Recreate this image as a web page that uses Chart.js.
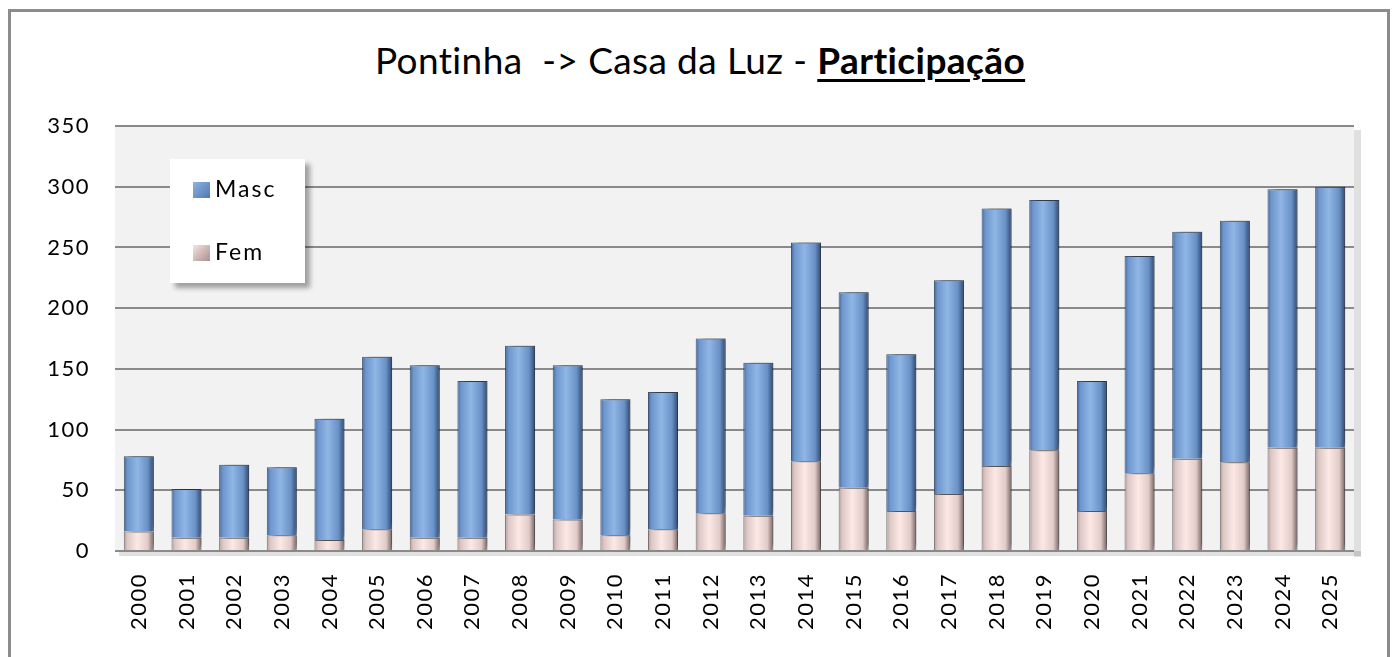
<!DOCTYPE html>
<html>
<head>
<meta charset="utf-8">
<script src="https://cdn.jsdelivr.net/npm/chart.js@4/dist/chart.umd.min.js"></script>
<style>
  html, body { margin: 0; padding: 0; background: #fff; }
  body { width: 1397px; height: 657px; position: relative; overflow: hidden; font-family: Lato, "Open Sans", sans-serif; }
  #frame { position: absolute; left: 8px; top: 9px; width: 1382px; height: 700px; border: 3px solid #8c8c8c; box-sizing: border-box; }
  #title { position: absolute; left: 0; width: 1400px; top: 38px; text-align: center; font-size: 37px; letter-spacing: 0.4px; line-height: 44px; color: #000; white-space: pre; }
  #title b { text-decoration: underline; text-decoration-thickness: 3px; text-underline-offset: 5px; }
  #legend { position: absolute; left: 170px; top: 159px; width: 135px; height: 124px; background: #fff; box-shadow: 5px 5px 5px rgba(0,0,0,0.35); font-size: 23px; letter-spacing: 2px; }
  .item { position: absolute; left: 23px; height: 26px; line-height: 26px; white-space: nowrap; }
  .sw { display: inline-block; width: 17px; height: 16px; vertical-align: -1px; margin-right: 5px; }
  canvas { position: absolute; left: 0; top: 0; }
</style>
</head>
<body>
<div id="frame"></div>
<div id="title">Pontinha  -&gt; Casa da Luz - <b>Participação</b></div>
<canvas id="chart" width="1397" height="657"></canvas>
<div id="legend">
  <div class="item" style="top:16px"><span class="sw" style="background:linear-gradient(135deg,#8db3e2,#4f79b0)"></span>Masc</div>
  <div class="item" style="top:79px"><span class="sw" style="background:linear-gradient(135deg,#f6e4e2,#a89090)"></span>Fem</div>
</div>
<script>
const years = ["2000","2001","2002","2003","2004","2005","2006","2007","2008","2009","2010","2011","2012",
  "2013","2014","2015","2016","2017","2018","2019","2020","2021","2022","2023","2024","2025"];
const fem  = [16, 11, 11, 13, 9, 18, 11, 11, 30, 26, 13, 18, 31, 29, 74, 52, 33, 47, 70, 83, 33, 64, 76, 73, 85, 85];
const masc = [62, 40, 60, 56, 100, 142, 142, 129, 139, 127, 112, 113, 144, 126, 180, 161, 129, 176, 212, 206, 107, 179, 187, 199, 213, 215];
const yTicks = [0, 50, 100, 150, 200, 250, 300, 350];

const BAR_PCT = 0.63;

// horizontal shaded fill per bar, built from the x scale
function barFill(stops, flat) {
  return function(c) {
    const xs = c.chart.scales.x;
    if (!xs || c.type !== "data") return flat;
    const cx = xs.getPixelForValue(c.dataIndex);
    const w = xs.width / years.length * BAR_PCT;
    if (!isFinite(cx) || !isFinite(w)) return flat;
    const g = c.chart.ctx.createLinearGradient(cx - w / 2, 0, cx + w / 2, 0);
    stops.forEach(s => g.addColorStop(s[0], s[1]));
    return g;
  };
}

const plotBg = {
  id: "plotBg",
  beforeDraw(chart) {
    const a = chart.chartArea, ctx = chart.ctx;
    ctx.letterSpacing = "1.5px";
    ctx.save();
    ctx.fillStyle = "rgba(0,0,0,0.12)";
    ctx.fillRect(a.right, a.top + 4, 7, a.bottom - a.top + 2);
    ctx.fillRect(a.left + 4, a.bottom, a.right - a.left + 3, 5);
    ctx.fillStyle = "#f2f2f2";
    ctx.fillRect(a.left, a.top, a.right - a.left, a.bottom - a.top);
    ctx.restore();
  },
  beforeDatasetsDraw(chart) {
    const ctx = chart.ctx;
    ctx.save();
    ctx.shadowColor = "rgba(0,0,0,0.35)";
    ctx.shadowBlur = 5;
    ctx.shadowOffsetX = 6;
    ctx.shadowOffsetY = -3;
  },
  afterDatasetsDraw(chart) {
    chart.ctx.restore();
  }
};

new Chart(document.getElementById("chart").getContext("2d"), {
  type: "bar",
  data: {
    labels: years,
    datasets: [{
      label: "Fem",
      data: fem,
      backgroundColor: barFill([[0, "#b49c9c"], [0.12, "#dcc7c5"], [0.45, "#fce9e6"], [0.8, "#e0cbc8"], [1, "#756262"]], "#f2dcdb"),
      borderColor: "rgba(90,80,80,0.8)",
      borderWidth: 1,
      barPercentage: BAR_PCT,
      categoryPercentage: 1
    }, {
      label: "Masc",
      data: masc,
      backgroundColor: barFill([[0, "#42669a"], [0.12, "#6d96cd"], [0.45, "#90b6e5"], [0.8, "#6991c6"], [1, "#2e4870"]], "#7aa2d6"),
      borderColor: "rgba(35,55,85,0.85)",
      borderWidth: 1,
      barPercentage: BAR_PCT,
      categoryPercentage: 1
    }]
  },
  options: {
    responsive: false,
    animation: false,
    layout: { padding: { top: 126, right: 43, bottom: 0, left: 0 } },
    plugins: {
      legend: { display: false },
      title: { display: false },
      tooltip: { enabled: false }
    },
    scales: {
      x: {
        stacked: true,
        grid: { display: false, drawTicks: false },
        border: { display: false },
        ticks: {
          color: "#000",
          font: { family: "Lato", size: 22 },
          minRotation: 90,
          maxRotation: 90,
          padding: 22,
          autoSkip: false
        },
        afterFit(s) { s.height = 106; }
      },
      y: {
        stacked: true,
        min: yTicks[0],
        max: yTicks[yTicks.length - 1],
        grid: { color: "#8a8a8a", lineWidth: 2, drawTicks: false },
        border: { display: false },
        ticks: {
          stepSize: yTicks[1] - yTicks[0],
          color: "#000",
          font: { family: "Lato", size: 22 },
          padding: 25
        },
        afterFit(s) { s.width = 115; }
      }
    }
  },
  plugins: [plotBg]
});
</script>
</body>
</html>
